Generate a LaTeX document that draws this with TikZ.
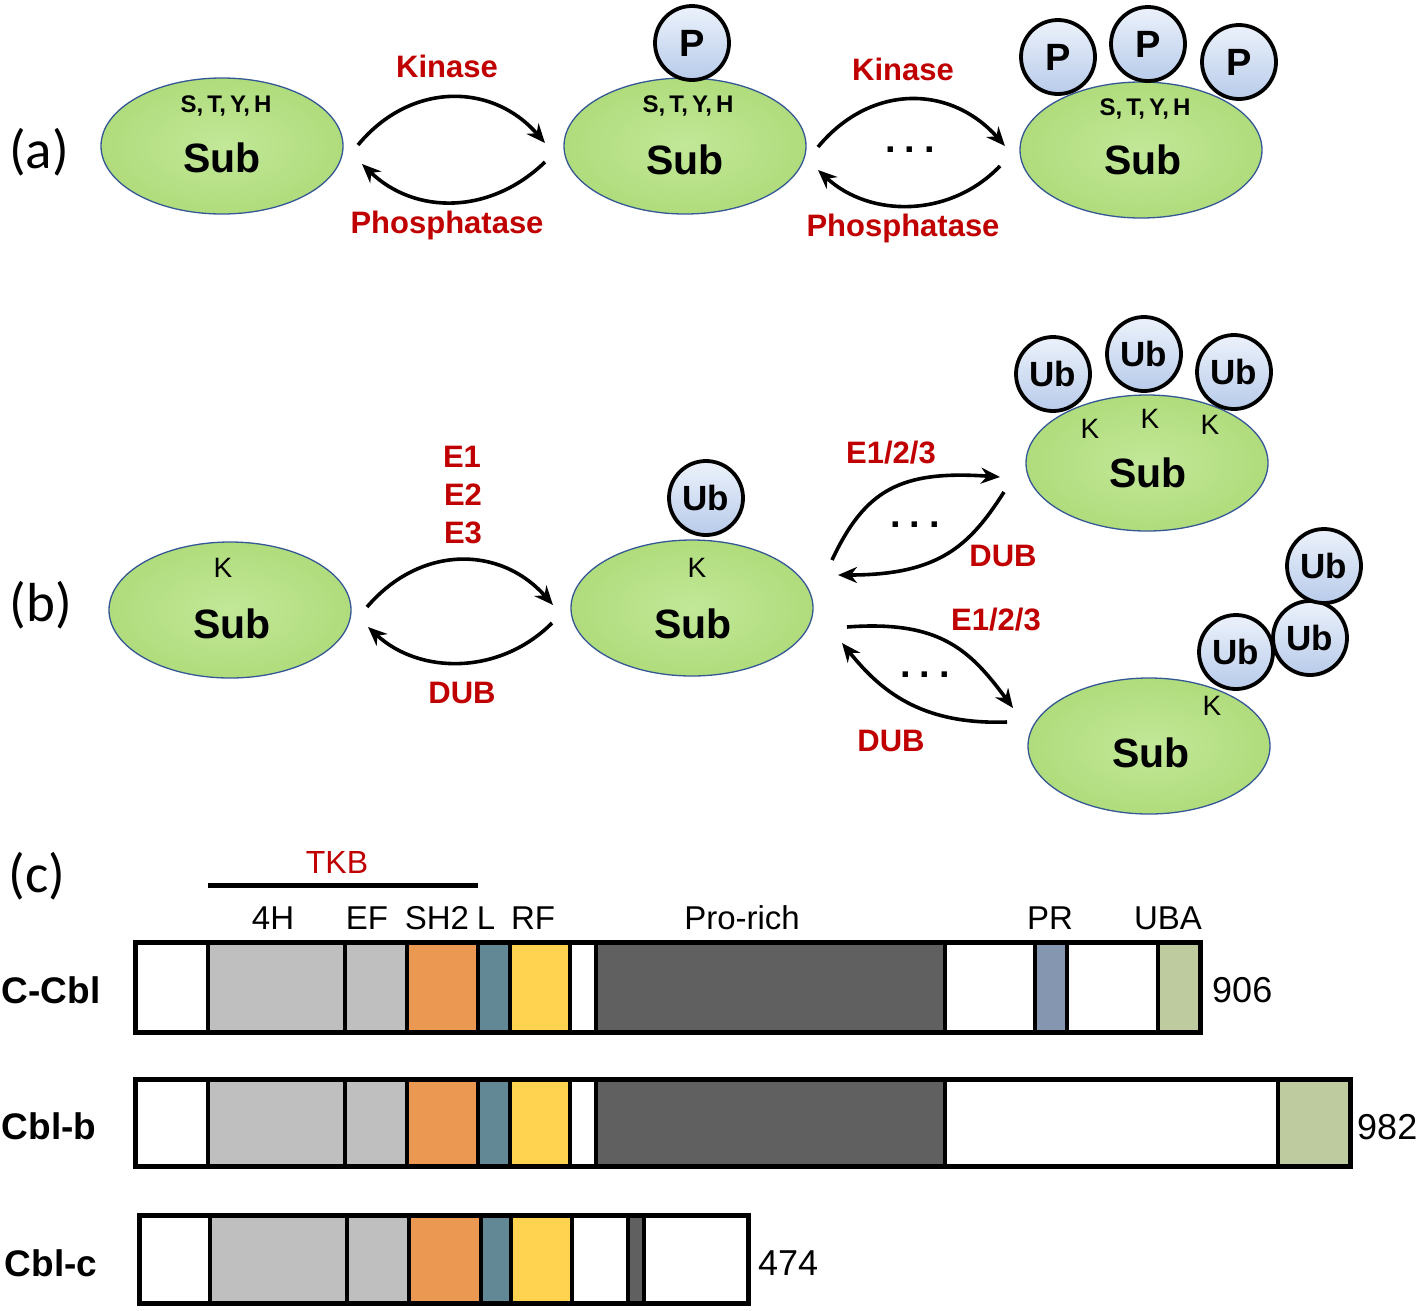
\documentclass[tikz,border=0pt]{standalone}
\usepackage{fontspec}
\setmainfont{Liberation Sans}
\newfontfamily\panelfont{Carlito}
\usetikzlibrary{shapes.geometric,arrows.meta}
\definecolor{subin}{RGB}{194,232,152}
\definecolor{subout}{RGB}{176,220,124}
\definecolor{subedge}{RGB}{52,88,150}
\definecolor{ballin}{RGB}{236,242,251}
\definecolor{ballout}{RGB}{184,203,234}
\definecolor{labred}{RGB}{192,0,0}
\definecolor{dgray}{RGB}{191,191,191}
\definecolor{dorange}{RGB}{235,153,82}
\definecolor{dteal}{RGB}{98,136,150}
\definecolor{dyellow}{RGB}{255,211,79}
\definecolor{ddark}{RGB}{96,96,96}
\definecolor{dpr}{RGB}{132,150,176}
\definecolor{duba}{RGB}{189,203,159}
\newcommand{\cblseg}[5]{\fill[#5] ({#1+2},{#3+5}) rectangle ({#2-2},{#4-5});}
\begin{document}
\begin{tikzpicture}[x=1pt,y=-1pt,
  subnode/.style={ellipse, draw=subedge, line width=1.3pt, minimum width=242pt, minimum height=136pt, inner sep=0pt, inner color=subin, outer color=subout},
  ballnode/.style={circle, draw=black, line width=3.8pt, minimum size=74pt, inner sep=0pt, top color=ballin, bottom color=ballout, font=\bfseries\fontsize{38}{40}\selectfont},
  ubnode/.style={ballnode, font=\bfseries\fontsize{35}{37}\selectfont},
  subtext/.style={inner sep=0pt, font=\bfseries\fontsize{41}{44}\selectfont},
  sitetext/.style={inner sep=0pt, anchor=base, font=\bfseries\fontsize{24}{26}\selectfont},
  ktext/.style={inner sep=0pt, font=\fontsize{28}{30}\selectfont},
  redlab/.style={inner sep=0pt, anchor=base, text=labred, font=\bfseries\fontsize{31}{33}\selectfont},
  dots/.style={inner sep=0pt, font=\bfseries\fontsize{38}{38}\selectfont},
  panellab/.style={inner sep=0pt, font=\panelfont\fontsize{55}{57}\selectfont},
  domlab/.style={inner sep=0pt, anchor=base, font=\fontsize{33}{35}\selectfont},
  protlab/.style={inner sep=0pt, font=\bfseries\fontsize{37}{39}\selectfont},
  numlab/.style={inner sep=0pt, anchor=west, font=\fontsize{36}{38}\selectfont},
  arr/.style={line width=3.6pt, -{Stealth[length=19pt,width=16pt]}}
]
\useasboundingbox (0,0) rectangle (1420,1310);
\newcommand{\sty}{S,\kern4pt T,\kern4pt Y,\kern4pt H}

% ---------------- (a)
\node[panellab] (la) at (39,152) {(a)};
\node[subnode] (a1) at (222,146) {};
\node[subnode] (a2) at (685,146) {};
\node[subnode] (a3) at (1141,150) {};
\node[subtext] (a1s) at (222,158) {Sub};
\node[subtext] (a2s) at (685,160) {Sub};
\node[subtext] (a3s) at (1143,160) {Sub};
\node[sitetext] (a1r) at (226,112) {\sty};
\node[sitetext] (a2r) at (688,112) {\sty};
\node[sitetext] (a3r) at (1145,115) {\sty};
\node[ballnode] (p1) at (692,43) {P};
\node[ballnode] (p2) at (1058,57) {P};
\node[ballnode] (p3) at (1148,44) {P};
\node[ballnode] (p4) at (1239,62) {P};

\coordinate (k1s) at (358,145);
\coordinate (k1e) at (545,143);
\coordinate (f1s) at (545,162);
\coordinate (f1e) at (362,164);
\draw[arr] (k1s) .. controls (410,82) and (492,82) .. (k1e);
\draw[arr] (f1s) .. controls (490,215) and (415,215) .. (f1e);
\node[redlab] (kin1) at (447,77) {Kinase};
\node[redlab] (pho1) at (447,233) {Phosphatase};

\coordinate (k2s) at (818,147);
\coordinate (k2e) at (1005,146);
\coordinate (f2s) at (1000,166);
\coordinate (f2e) at (818,170);
\draw[arr] (k2s) .. controls (870,84) and (950,84) .. (k2e);
\draw[arr] (f2s) .. controls (950,218) and (870,218) .. (f2e);
\node[redlab] (kin2) at (903,80) {Kinase};
\node[redlab] (pho2) at (903,236) {Phosphatase};
\node[dots] (d1) at (910,150) {.\kern9pt.\kern9pt.};

% ---------------- (b)
\node[panellab] (lb) at (41,605) {(b)};
\node[subnode] (b1) at (230,610) {};
\node[subnode] (b2) at (692,608) {};
\node[subnode] (b3) at (1147,463) {};
\node[subnode] (b4) at (1149,746) {};
\node[subtext] (b1s) at (232,624) {Sub};
\node[subtext] (b2s) at (693,624) {Sub};
\node[subtext] (b3s) at (1148,473) {Sub};
\node[subtext] (b4s) at (1151,753) {Sub};
\node[ktext] (b1k) at (223,568) {K};
\node[ktext] (b2k) at (697,568) {K};
\node[ktext] (b3k1) at (1090,429) {K};
\node[ktext] (b3k2) at (1150,419) {K};
\node[ktext] (b3k3) at (1210,425) {K};
\node[ktext] (b4k) at (1212,706) {K};
\node[ubnode] (u1) at (706,498) {Ub};
\node[ubnode] (u2) at (1053,374) {Ub};
\node[ubnode] (u3) at (1144,354) {Ub};
\node[ubnode] (u4) at (1234,372) {Ub};
\node[ubnode] (u5) at (1236,652) {Ub};
\node[ubnode] (u6) at (1310,638) {Ub};
\node[ubnode] (u7) at (1324,566) {Ub};

\coordinate (e1s) at (367,607);
\coordinate (e1e) at (553,605);
\coordinate (g1s) at (552,623);
\coordinate (g1e) at (368,627);
\draw[arr] (e1s) .. controls (420,545) and (500,545) .. (e1e);
\draw[arr] (g1s) .. controls (500,675) and (420,675) .. (g1e);
\node[redlab] (le1) at (462,467) {E1};
\node[redlab] (le2) at (463,505) {E2};
\node[redlab] (le3) at (463,543) {E3};
\node[redlab] (ldub1) at (462,703) {DUB};

\coordinate (e2s) at (832,560);
\coordinate (e2e) at (1000,477);
\coordinate (g2s) at (1004,492);
\coordinate (g2e) at (838,575);
\draw[arr] (e2s) .. controls (865,490) and (900,470) .. (e2e);
\draw[arr] (g2s) .. controls (970,545) and (940,575) .. (g2e);
\node[redlab] (le4) at (891,463) {E1/2/3};
\node[redlab] (ldub2) at (1003,566) {DUB};
\node[dots] (d2) at (915,525) {.\kern9pt.\kern9pt.};

\coordinate (e3s) at (847,627);
\coordinate (e3e) at (1013,708);
\coordinate (g3s) at (1007,722);
\coordinate (g3e) at (842,643);
\draw[arr] (e3s) .. controls (940,620) and (970,650) .. (e3e);
\draw[arr] (g3s) .. controls (920,725) and (880,690) .. (g3e);
\node[redlab] (le5) at (996,630) {E1/2/3};
\node[redlab] (ldub3) at (891,751) {DUB};
\node[dots] (d3) at (925,675) {.\kern9pt.\kern9pt.};

% ---------------- (c)
\node[panellab] (lc) at (37,876) {(c)};
\node[inner sep=0pt, anchor=base, text=labred, font=\fontsize{32}{34}\selectfont] (tkb) at (337,873) {TKB};
\coordinate (tkbl) at (208,885);
\coordinate (tkbr) at (478,885);
\draw[line width=5pt] (tkbl) -- (tkbr);
\node[domlab] (l4h) at (273,929) {4H};
\node[domlab] (lef) at (367,929) {EF};
\node[domlab] (lsh) at (437,929) {SH2};
\node[domlab] (ll) at (486,929) {L};
\node[domlab] (lrf) at (533,929) {RF};
\node[domlab] (lpro) at (742,929) {Pro-rich};
\node[domlab] (lpr) at (1050,929) {PR};
\node[domlab] (luba) at (1168,929) {UBA};

% C-Cbl
\node[protlab] (nc) at (51,990) {C-Cbl};
\fill[black] (133,940) rectangle (1203,1035);
\cblseg{136}{208}{940}{1035}{white}
\cblseg{208}{345}{940}{1035}{dgray}
\cblseg{345}{407}{940}{1035}{dgray}
\cblseg{407}{478}{940}{1035}{dorange}
\cblseg{478}{510}{940}{1035}{dteal}
\cblseg{510}{570}{940}{1035}{dyellow}
\cblseg{570}{596}{940}{1035}{white}
\cblseg{596}{945}{940}{1035}{ddark}
\cblseg{945}{1035}{940}{1035}{white}
\cblseg{1035}{1067}{940}{1035}{dpr}
\cblseg{1067}{1158}{940}{1035}{white}
\cblseg{1158}{1200}{940}{1035}{duba}
\node[numlab] (n906) at (1212,990) {906};

% Cbl-b
\node[protlab] (nb) at (49,1126) {Cbl-b};
\fill[black] (133,1077) rectangle (1353,1169);
\cblseg{136}{208}{1077}{1169}{white}
\cblseg{208}{345}{1077}{1169}{dgray}
\cblseg{345}{407}{1077}{1169}{dgray}
\cblseg{407}{478}{1077}{1169}{dorange}
\cblseg{478}{510}{1077}{1169}{dteal}
\cblseg{510}{570}{1077}{1169}{dyellow}
\cblseg{570}{596}{1077}{1169}{white}
\cblseg{596}{945}{1077}{1169}{ddark}
\cblseg{945}{1278}{1077}{1169}{white}
\cblseg{1278}{1350}{1077}{1169}{duba}
\node[numlab] (n982) at (1357,1127) {982};

% Cbl-c
\node[protlab] (ncc) at (51,1263) {Cbl-c};
\fill[black] (137,1213) rectangle (751,1306);
\cblseg{140}{210}{1213}{1306}{white}
\cblseg{210}{347}{1213}{1306}{dgray}
\cblseg{347}{409}{1213}{1306}{dgray}
\cblseg{409}{481}{1213}{1306}{dorange}
\cblseg{481}{511}{1213}{1306}{dteal}
\cblseg{511}{572}{1213}{1306}{dyellow}
\cblseg{572}{628}{1213}{1306}{white}
\cblseg{628}{644}{1213}{1306}{ddark}
\cblseg{644}{748}{1213}{1306}{white}
\node[numlab] (n474) at (758,1263) {474};
\end{tikzpicture}
\end{document}
